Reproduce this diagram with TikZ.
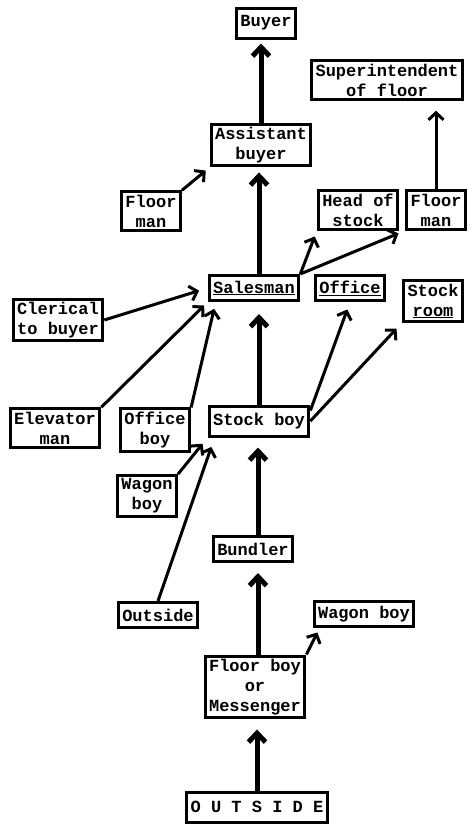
\documentclass[tikz,border=0pt]{standalone}
\usepackage{fontspec}
\setmainfont{Liberation Mono}
\usetikzlibrary{arrows.meta}
\tikzset{
	box/.style={draw, line width=3pt, inner xsep=4pt, inner ysep=3pt, minimum height=25pt, align=center, font=\fontsize{17}{20}\selectfont\bfseries}, % every card of the chart
	tall/.style={minimum height=30pt}, % the few one-line cards that are a bit higher
	main/.style={line width=5pt, -{Straight Barb[length=9pt,width=17pt]}}, % the thick upward line of promotion
	link/.style={line width=3pt, -{Straight Barb[length=7pt,width=15pt]}}, % thinner slanted arrows
}
\begin{document}
\begin{tikzpicture}[x=1pt, y=-1pt]
	\useasboundingbox (0,0) rectangle (471,825);
	\node[box, tall] (buyer) at (266,23) {Buyer};
	\node[box] (supt) at (387,80) {Superintendent\\of floor};
	\node[box] (asst) at (261,145) {Assistant\\buyer};
	\node[box] (floormanA) at (151,211) {Floor\\man};
	\node[box] (headstock) at (358,210) {Head of\\stock};
	\node[box] (floormanB) at (436,210) {Floor\\man};
	\node[box] (clerical) at (58,320) {Clerical\\to buyer};
	\node[box] (salesman) at (254,288) {\underline{Salesman}};
	\node[box] (office) at (350,288) {\underline{Office}};
	\node[box] (stockroom) at (433,301) {Stock\\\underline{room}};
	\node[box] (elevator) at (55,428) {Elevator\\man};
	\node[box] (officeboy) at (155,430) {Office\\boy};
	\node[box, tall] (stockboy) at (259,421) {Stock boy};
	\node[box] (wagonA) at (147,496) {Wagon\\boy};
	\node[box] (bundler) at (253,549) {Bundler};
	\node[box] (outsideA) at (158,615) {Outside};
	\node[box] (wagonB) at (364,614) {Wagon boy};
	\node[box] (floorboy) at (255,687) {Floor boy\\or\\Messenger};
	\node[box, tall] (outsideB) at (257,807) {O U T S I D E};
	% up the main line
	\draw[main, shorten >=4pt] (asst.north) -- (asst.north |- buyer.south);
	\draw[main, shorten >=5pt] ([xshift=5pt]salesman.north) -- ([xshift=5pt]salesman.north |- asst.south);
	\draw[main, shorten >=12pt] (stockboy.north) -- (stockboy.north |- salesman.south);
	\draw[main, shorten >=10pt] ([xshift=5pt]bundler.north) -- ([xshift=5pt]bundler.north |- stockboy.south);
	\draw[main, shorten >=10pt] ([xshift=3pt]floorboy.north) -- ([xshift=3pt]floorboy.north |- bundler.south);
	\draw[main, shorten >=10pt] (outsideB.north) -- (outsideB.north |- floorboy.south);
	% side lines
	\draw[link, shorten >=10pt] (floormanB.north) -- (floormanB.north |- supt.south);
	\draw[link, shorten >=5pt] (floormanA.north east) -- (asst.south west);
	\draw[link, shorten >=6pt] (salesman.north east) -- (headstock.south west);
	\draw[link, shorten >=7pt] (salesman.north east) -- (floormanB.south west);
	\draw[link, shorten >=9pt] (clerical.east) -- (salesman.west);
	\draw[link, shorten >=5pt] (elevator.north east) -- (salesman.south west);
	\draw[link, shorten >=7pt] (officeboy.north east) -- ([xshift=8pt]salesman.south west);
	\draw[link, shorten >=8pt] ([yshift=-6pt]stockboy.north east) -- (office.south);
	\draw[link, shorten >=8pt] (stockboy.east) -- (stockroom.south west);
	\draw[link, shorten >=8pt] (wagonA.north east) -- (stockboy.south west);
	\draw[link, shorten >=10pt] (outsideA.north) -- ([xshift=7pt]stockboy.south west);
	\draw[link, shorten >=5pt] (floorboy.north east) -- ([xshift=7pt]wagonB.south west);
\end{tikzpicture}
\end{document}
